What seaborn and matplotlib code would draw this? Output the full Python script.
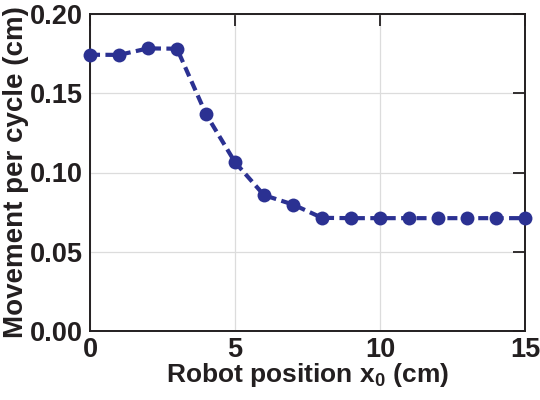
import matplotlib
matplotlib.use("Agg")
import matplotlib.pyplot as plt
import seaborn as sns
import pandas as pd

positions = [0, 1, 2, 3, 4, 5, 6, 7, 8, 9, 10, 11, 12, 13, 14, 15]
movement = [0.1743, 0.1742, 0.1783, 0.1781, 0.1368, 0.1065, 0.0857, 0.0798,
            0.0714, 0.0712, 0.0712, 0.0712, 0.0712, 0.0712, 0.0712, 0.0712]
xticks = [0, 5, 10, 15]
yticks = [0.00, 0.05, 0.10, 0.15, 0.20]

sns.set_style("white")
plt.rcParams['font.family'] = ['Liberation Sans', 'DejaVu Sans']
plt.rcParams['font.weight'] = 'bold'
plt.rcParams['mathtext.fontset'] = 'custom'
plt.rcParams['mathtext.bf'] = 'Liberation Sans:bold'
plt.rcParams['mathtext.rm'] = 'Liberation Sans:bold'
plt.rcParams['mathtext.default'] = 'bf'

df = pd.DataFrame({"x": positions, "y": movement})

fig = plt.figure(figsize=(5.4, 4.0), dpi=100)
ax = fig.add_axes([0.1667, 0.1725, 0.8055, 0.7925])
color = "#2B3192"
sns.lineplot(data=df, x="x", y="y", ax=ax, color=color, linewidth=3,
             marker="o", markersize=10, markeredgewidth=0,
             dashes=False, clip_on=False, zorder=5)
ax.lines[0].set_linestyle((0, (2.4, 1.3)))

ax.set_xlim(0, 15)
ax.set_ylim(0, 0.2)
ax.set_xticks(xticks)
ax.set_yticks(yticks)
ax.set_xticklabels([str(t) for t in xticks])
ax.set_yticklabels([f"{t:.2f}" for t in yticks])
ax.grid(True, color="#dcdcdc", linewidth=0.9)
ax.set_axisbelow(True)
ax.tick_params(direction="in", length=8.6, width=1.3, top=True, right=True,
               labelsize=19.5, colors="#231f20")
ax.tick_params(axis="y", pad=5)
ax.tick_params(axis="x", pad=4)
for s in ax.spines.values():
    s.set_linewidth(1.4)
    s.set_color("#231f20")
ax.set_xlabel("Robot position x$_0$ (cm)", fontsize=19, fontweight="bold",
              labelpad=-1, color="#231f20")
ax.set_ylabel("Movement per cycle (cm)", fontsize=20, fontweight="bold",
              labelpad=1, color="#231f20")

fig.savefig("out.png", dpi=100)
